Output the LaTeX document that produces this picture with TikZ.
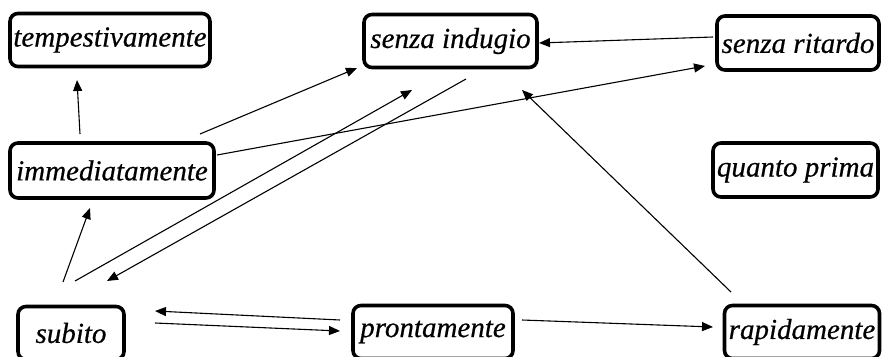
\documentclass[tikz,border=0pt]{standalone}
\usepackage{fontspec}
\setmainfont{Liberation Serif}[ItalicFeatures={FakeBold=0.5}]
\usetikzlibrary{arrows.meta,calc}
\tikzset{
  word/.style={draw=black, line width=3.6pt, rounded corners=8pt, fill=white,
    inner sep=0pt, minimum height=#1, font=\fontsize{29}{31}\selectfont\itshape},
  word/.default=53pt,
  link/.style={line width=1.1pt, -{Triangle[length=11pt,width=9pt]}}
}
\begin{document}
\begin{tikzpicture}[x=1pt,y=-1pt]
\useasboundingbox (0,0) rectangle (882,356);
\clip (0,0) rectangle (882,356);
\node[word, minimum width=200pt] (temp) at (110,40) {tempestivamente};
\node[word, minimum width=173pt] (indugio) at (450.5,41) {senza indugio};
\node[word=54pt, minimum width=162pt] (ritardo) at (798,43) {senza ritardo};
\node[word=55pt, minimum width=204pt] (imm) at (112,170.5) {immediatamente};
\node[word=54pt, minimum width=165pt] (quanto) at (795.5,170) {quanto prima};
\node[word=53pt, minimum width=106pt] (subito) at (71,333) {subito};
\node[word=53pt, minimum width=160pt] (pronto) at (433,332) {prontamente};
\node[word=53pt, minimum width=155pt] (rapida) at (802,332) {rapidamente};

\draw[link] ($(imm.center)+(-32,-36.5)$) -- ($(temp.center)+(-33,40)$);
\draw[link] ($(imm.center)+(88,-36.5)$) -- ($(indugio.center)+(-93.5,27)$);
\draw[link] ($(imm.center)+(105,-15.5)$) -- ($(ritardo.center)+(-93,23)$);
\draw[link] ($(subito.center)+(-8,-51)$) -- ($(imm.center)+(-22,37.5)$);
\draw[link] ($(subito.center)+(4,-52)$) -- ($(indugio.center)+(-38.5,49)$);
\draw[link] ($(indugio.center)+(15.5,38)$) -- ($(subito.center)+(36,-52)$);
\draw[link] ($(ritardo.center)+(-85,-6)$) -- ($(indugio.center)+(88.5,2)$);
\draw[link] ($(rapida.center)+(-71,-40)$) -- ($(indugio.center)+(71.5,49)$);
\draw[link] ($(pronto.center)+(-93,-12)$) -- ($(subito.center)+(84,-22)$);
\draw[link] ($(subito.center)+(84,-10)$) -- ($(pronto.center)+(-93,-1)$);
\draw[link] ($(pronto.center)+(89,-12)$) -- ($(rapida.center)+(-89,-5)$);
\end{tikzpicture}
\end{document}
